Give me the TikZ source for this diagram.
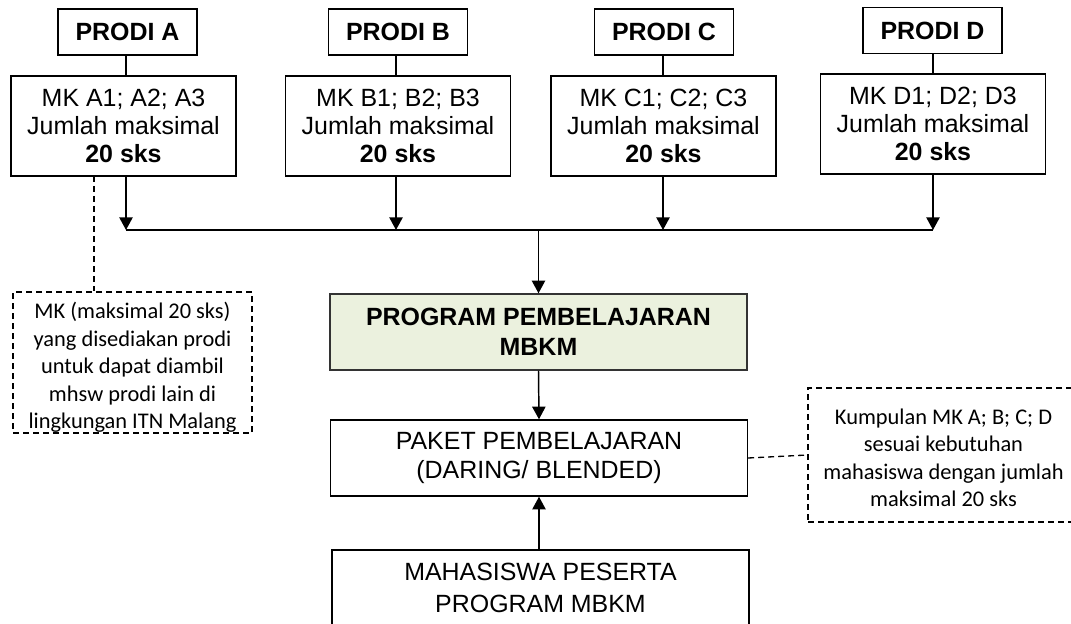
\documentclass[tikz,border=0pt]{standalone}
\usepackage{fontspec}
\setmainfont{Liberation Sans}
\newfontfamily\calibri{Carlito}
\usetikzlibrary{arrows.meta}
\definecolor{progfill}{HTML}{EBF1DE}
\definecolor{progline}{HTML}{333333}
\begin{document}
\begin{tikzpicture}[x=0.75pt,y=-0.75pt,
  box/.style={draw, line width=1.1pt, inner sep=0pt, align=center,
    font=\fontsize{18.7}{21.2}\selectfont},
  prodibox/.style={box, minimum width=104.25pt, minimum height=34.5pt, font=\fontsize{18.7}{21.2}\selectfont\bfseries},
  mkbox/.style={box, minimum width=168.75pt, minimum height=75pt},
  widebox/.style={box, minimum width=312.5pt, minimum height=57pt},
  notebox/.style={draw, line width=1pt, dash pattern=on 4.5pt off 3pt, inner sep=0pt},
  notetext/.style={inner sep=0pt, align=center, font=\calibri\fontsize{16.8}{20.6}\selectfont},
  conn/.style={line width=1.1pt},
  arr/.style={conn, -{Triangle[length=9.5pt,width=10pt]}},
  dconn/.style={line width=1pt, dash pattern=on 4.5pt off 3pt}
]
\useasboundingbox (0,0) rectangle (1071,624);
\clip (0,0) rectangle (1071,624);

% PRODI boxes
\node[prodibox] (PA) at (127.5,32) {PRODI A};
\node[prodibox] (PB) at (398,32) {PRODI B};
\node[prodibox] (PC) at (664,32) {PRODI C};
\node[prodibox] (PD) at (932.5,30.5) {PRODI D};

% MK boxes
\node[mkbox] (MA) at (123.5,126) {MK A1; A2; A3\\Jumlah maksimal\\\textbf{20 sks}};
\node[mkbox] (MB) at (398,126) {MK B1; B2; B3\\Jumlah maksimal\\\textbf{20 sks}};
\node[mkbox] (MC) at (663.5,126) {MK C1; C2; C3\\Jumlah maksimal\\\textbf{20 sks}};
\node[mkbox] (MD) at (933,124) {MK D1; D2; D3\\Jumlah maksimal\\\textbf{20 sks}};

% central boxes
\node[widebox, fill=progfill, draw=progline, font=\fontsize{18.7}{22.5}\selectfont\bfseries]
  (PG) at (538.5,332) {PROGRAM PEMBELAJARAN\\MBKM};
\node[widebox] (PK) at (539,458) {PAKET PEMBELAJARAN\\(DARING/ BLENDED)};
\node[widebox, font=\fontsize{18.7}{23.8}\selectfont] (MH) at (540.5,588) {MAHASISWA PESERTA\\PROGRAM MBKM};

% note boxes
\node[notebox, minimum width=179.25pt, minimum height=105.75pt] (NL) at (132.5,362.5) {};
\node[notetext] (NLT) at (132.5,367.5)
  {MK (maksimal 20 sks)\\yang disediakan prodi\\untuk dapat diambil\\mhsw prodi lain di\\lingkungan ITN Malang};
\node[notebox, minimum width=225pt, minimum height=100.5pt] (NR) at (958,455) {};
\node[notetext] (NRT) at (943.5,458)
  {Kumpulan MK A; B; C; D\\sesuai kebutuhan\\mahasiswa dengan jumlah\\maksimal 20 sks};

% bus
\coordinate (BA) at (126,230);
\coordinate (BB) at (396,230);
\coordinate (BC) at (663,230);
\coordinate (BD) at (933,230);
\coordinate (BJ) at (538.5,230);

% stems PRODI -> MK
\draw[conn] (PA.south -| BA) -- (MA.north -| BA);
\draw[conn] (PB.south -| BB) -- (MB.north -| BB);
\draw[conn] (PC.south -| BC) -- (MC.north -| BC);
\draw[conn] (PD.south -| BD) -- (MD.north -| BD);

% MK -> bus
\draw[arr] (MA.south -| BA) -- (BA);
\draw[arr] (MB.south -| BB) -- (BB);
\draw[arr] (MC.south -| BC) -- (BC);
\draw[arr] (MD.south -| BD) -- (BD);
\draw[conn] (BA) -- (BD);

% bus -> program -> paket <- mahasiswa
\draw[arr] (BJ) -- (PG.north);
\draw[arr] (PG.south) -- (PK.north);
\draw[arr] (MH.north -| PK.south) -- (PK.south);

% dashed note connectors
\coordinate (DA) at (94,176);
\draw[dconn] (DA) -- (NL.north -| DA);
\draw[dconn] (PK.east) -- (NR.west);
\end{tikzpicture}
\end{document}
